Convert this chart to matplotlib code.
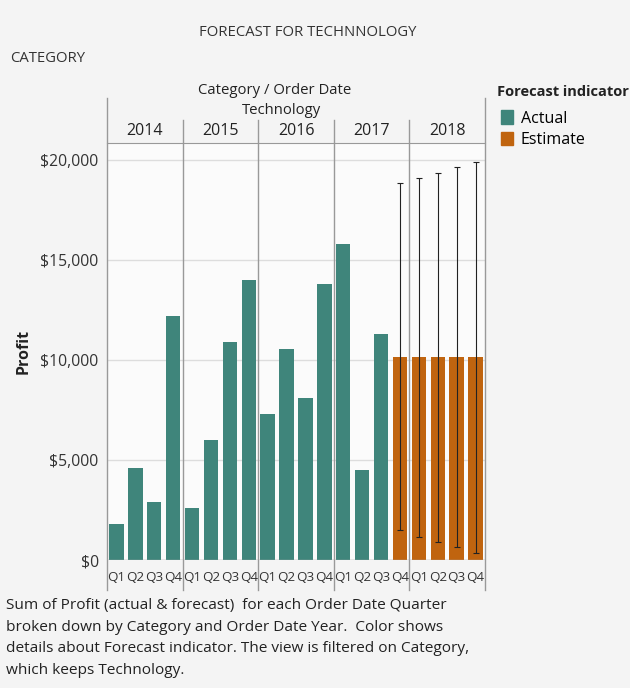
import matplotlib.pyplot as plt
from matplotlib.patches import Patch

# data
years = ['2014', '2015', '2016', '2017', '2018']
quarters = ['Q1', 'Q2', 'Q3', 'Q4']
actual = [1800, 4600, 2900, 12200,
          2600, 6000, 10900, 14000,
          7300, 10550, 8100, 13800,
          15800, 4500, 11300]
estimate = [10150, 10150, 10150, 10150, 10150]
est_upper = [18850, 19100, 19350, 19650, 19900]
est_lower = [1500, 1150, 900, 650, 350]
yticks = [0, 5000, 10000, 15000, 20000]
caption = ['Sum of Profit (actual & forecast)  for each Order Date Quarter',
           'broken down by Category and Order Date Year.  Color shows',
           'details about Forecast indicator. The view is filtered on Category,',
           'which keeps Technology.']

teal = '#3f857b'
orange = '#c0640f'
font = ['Open Sans', 'DejaVu Sans']
plt.rcParams['font.family'] = font

W, H = 630, 688
fig = plt.figure(figsize=(W / 100, H / 100), dpi=100, facecolor='#f4f4f4')


def fx(x):
    return x / W


def fy(y):
    return 1 - y / H


# plot area: x 107..485, y 143..560 (pixel coords)
top, bot = 143, 560
ax = fig.add_axes([fx(107), fy(bot), fx(485) - fx(107), fy(top) - fy(bot)])
ax.set_facecolor('#fbfbfb')

n_act = len(actual)
xa = list(range(n_act))
xe = list(range(n_act, n_act + len(estimate)))
ax.bar(xa, actual, width=0.76, color=teal, zorder=3)
ax.bar(xe, estimate, width=0.76, color=orange, zorder=3)
yerr = [[e - lo for e, lo in zip(estimate, est_lower)],
        [hi - e for e, hi in zip(estimate, est_upper)]]
ax.errorbar(xe, estimate, yerr=yerr, fmt='none', ecolor='#222222',
            elinewidth=0.8, capsize=2.5, capthick=0.8, zorder=4)

nbars = n_act + len(estimate)
ax.set_xlim(-0.5, nbars - 0.5)
ax.set_ylim(0, 20850)
ax.set_yticks(yticks)
ax.set_yticklabels(['${:,}'.format(v) for v in yticks], fontsize=11.3, color='#333333')
ax.tick_params(axis='y', length=0, pad=6)
ax.grid(axis='y', color='#dddddd', linewidth=1, zorder=0)
ax.axhline(0, color='#aaaaaa', linewidth=1, zorder=5)

ax.set_xticks(range(nbars))
ax.set_xticklabels(quarters * len(years), fontsize=9.6, color='#333333')
ax.tick_params(axis='x', length=0, pad=8)

for s in ['right', 'bottom', 'left']:
    ax.spines[s].set_visible(False)
ax.spines['top'].set_color('#999999')

ax.set_ylabel('Profit', fontsize=11.5, fontweight='bold', color='#222222', labelpad=6)

# vertical frame and year separator lines, reaching into header and tick area
trans = ax.get_xaxis_transform()
h = bot - top
y_low = (bot - 590) / h
y_year = (bot - 120) / h
y_head = (bot - 98) / h
for x in [-0.5, nbars - 0.5]:
    ax.plot([x, x], [y_low, y_head], transform=trans, color='#999999', lw=1, clip_on=False)
for i in range(1, len(years)):
    x = 4 * i - 0.5
    ax.plot([x, x], [y_low, y_year], transform=trans, color='#999999', lw=1, clip_on=False)
for i, yr in enumerate(years):
    ax.text(4 * i + 1.5, (bot - 131) / h, yr, transform=trans, ha='center', va='center',
            fontsize=11.5, color='#222222')

# header texts
fig.text(fx(308), fy(32), 'FORECAST FOR TECHNNOLOGY', ha='center', va='center',
         fontsize=10.7, color='#333333')
fig.text(fx(10), fy(58), 'CATEGORY', ha='left', va='center', fontsize=10.7, color='#333333')
fig.text(fx(275), fy(90), 'Category / Order Date', ha='center', va='center',
         fontsize=10.7, color='#222222')
fig.text(fx(281), fy(110), 'Technology', ha='center', va='center',
         fontsize=10.7, color='#222222')

# legend
fig.text(fx(497), fy(92), 'Forecast indicator', ha='left', va='center',
         fontsize=10.5, fontweight='bold', color='#222222')
leg = fig.legend(handles=[Patch(color=teal, label='Actual'), Patch(color=orange, label='Estimate')],
                 loc='upper left', bbox_to_anchor=(fx(495), fy(104)), frameon=False,
                 fontsize=11.5, handlelength=0.75, handleheight=0.95, handletextpad=0.45,
                 labelspacing=0.3, borderaxespad=0)

# caption
for i, line in enumerate(caption):
    fig.text(fx(6), fy(606 + 21.5 * i), line, ha='left', va='center',
             fontsize=11.1, color='#222222')

fig.savefig('out.png', dpi=100, facecolor=fig.get_facecolor())
